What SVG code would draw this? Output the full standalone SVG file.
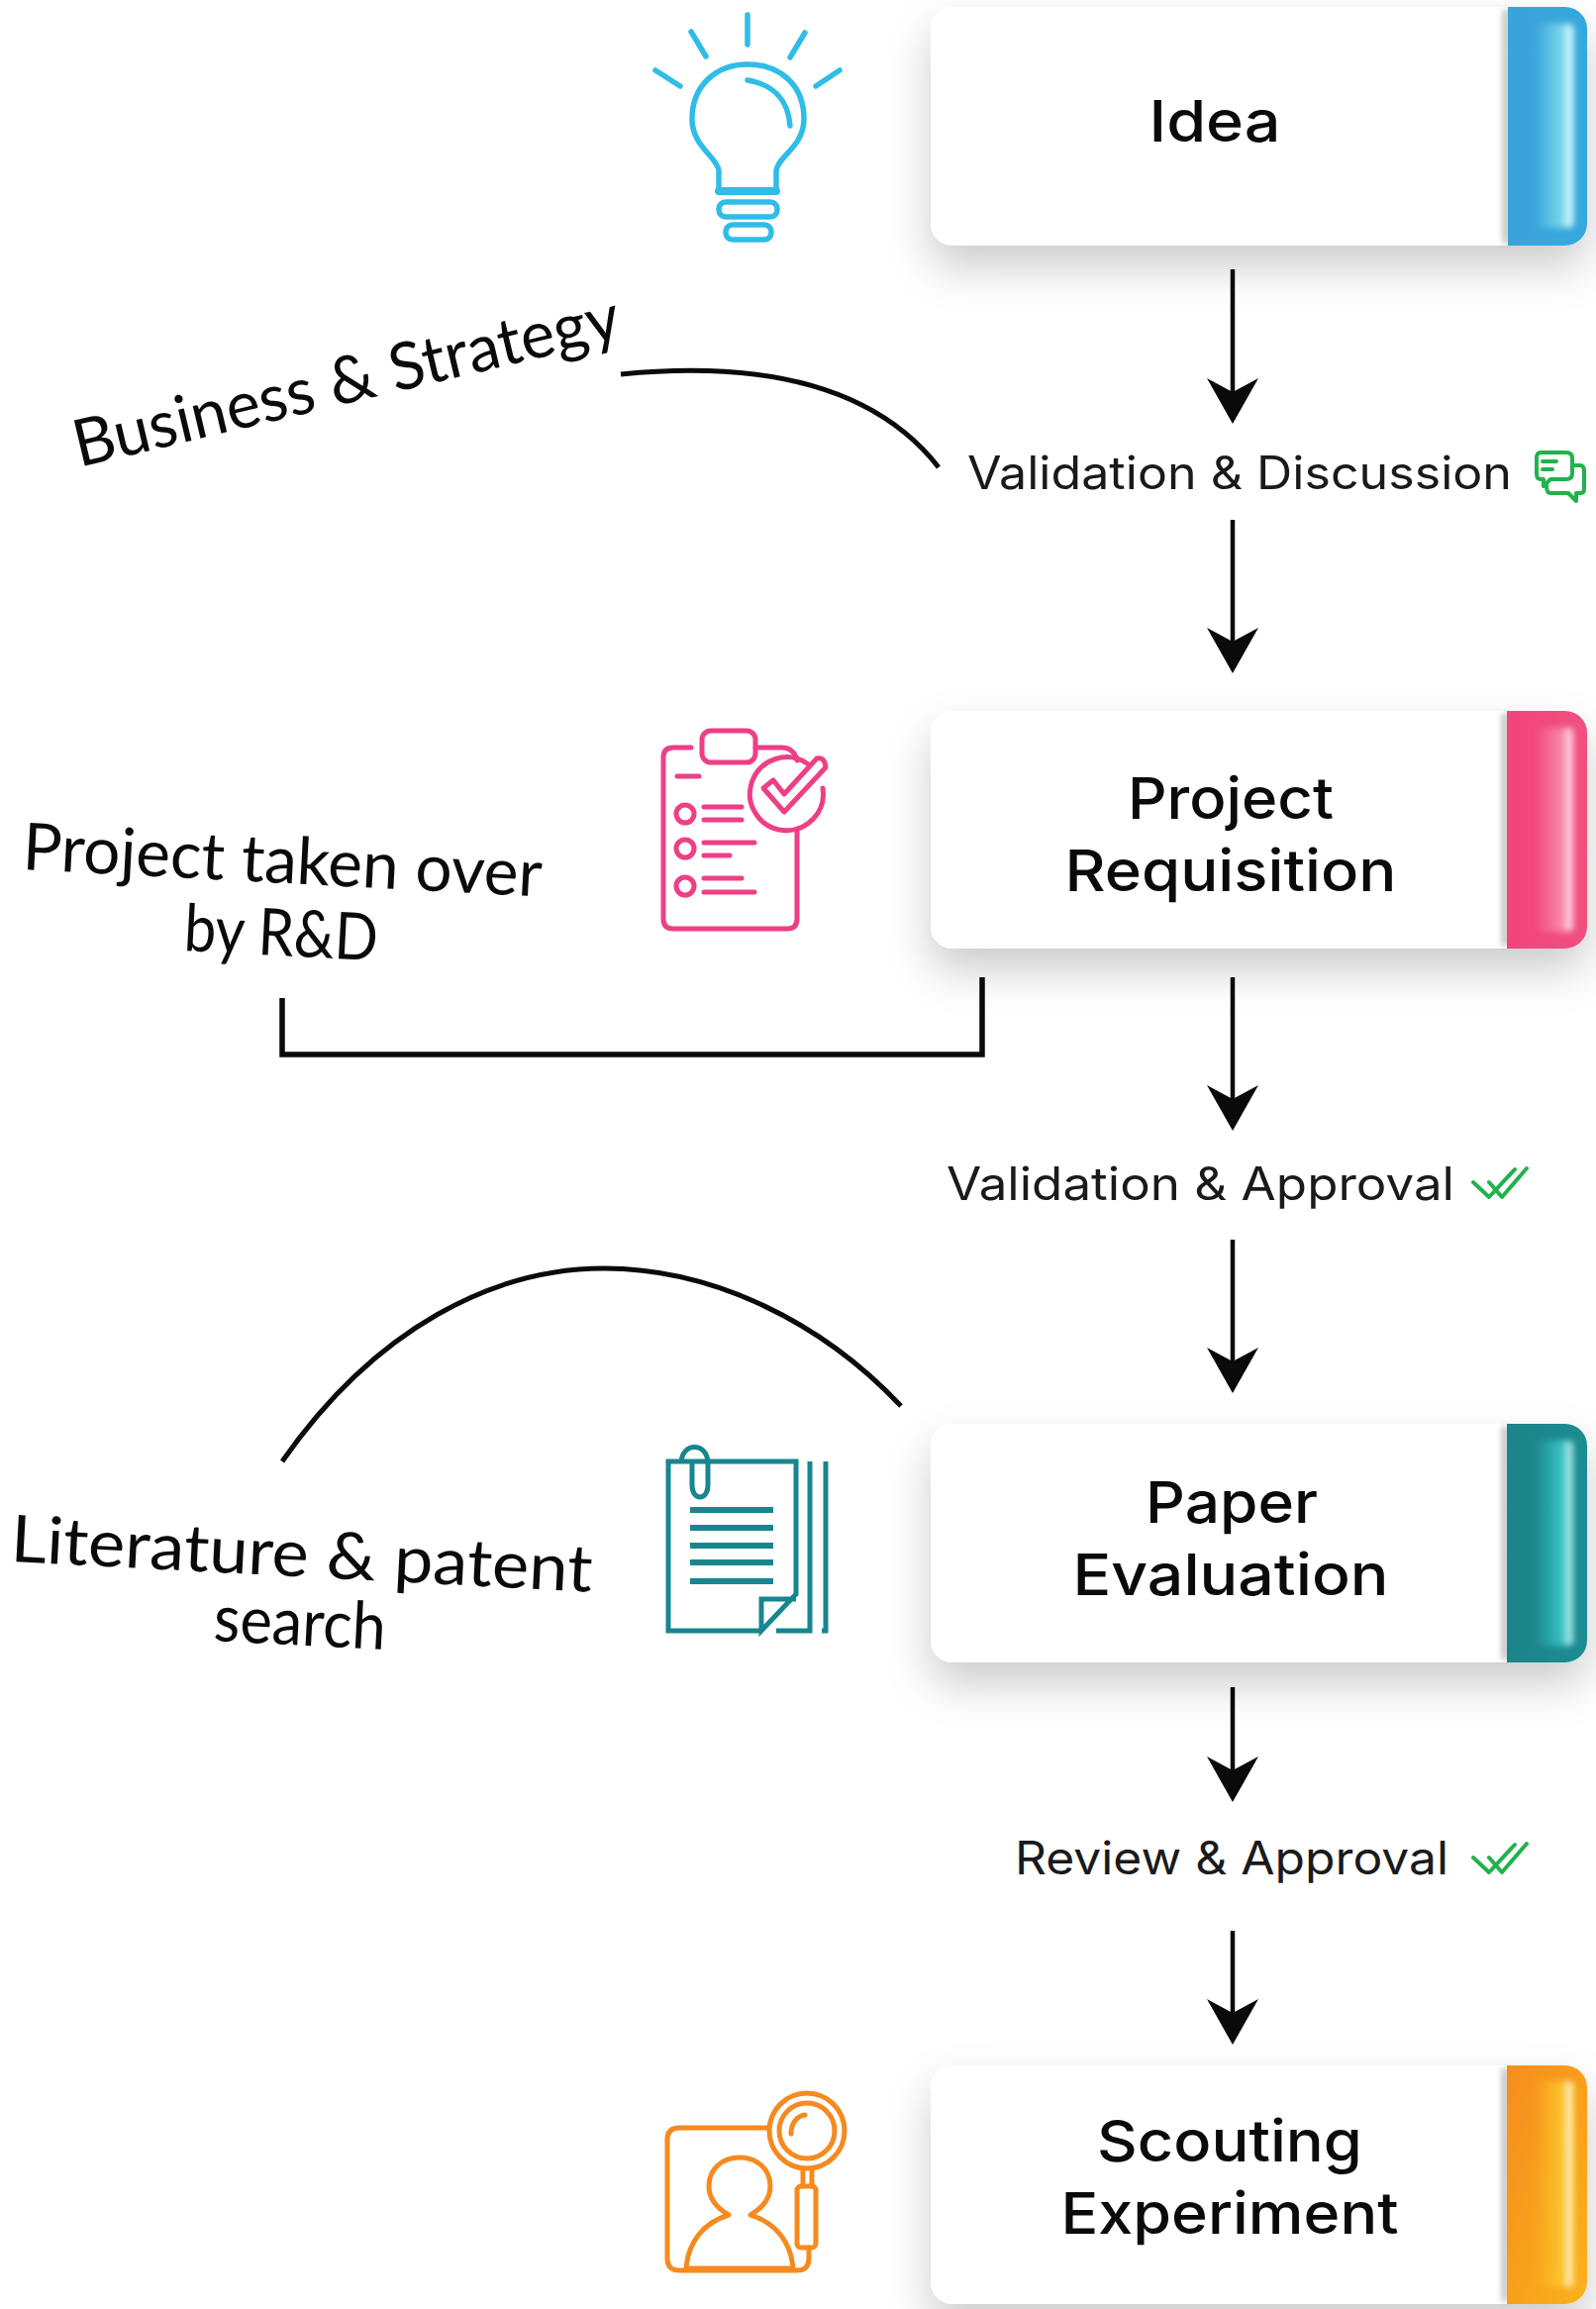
<svg xmlns="http://www.w3.org/2000/svg" width="1612" height="2332" viewBox="0 0 1612 2332">
<style>
.t{font-family:"Inter","Noto Sans",sans-serif;fill:#0a0a0a}
.h{font-size:58px;font-weight:500}
.l{font-size:46px;font-weight:400;fill:#1a1a1a}
.w{font-family:"Lato","Open Sans",sans-serif;font-weight:400;fill:#0a0a0a;font-size:66px}
.conn{fill:none;stroke:#0a0a0a;stroke-width:4.5}
.i{fill:none;stroke-width:5.5;stroke-linecap:round;stroke-linejoin:round}
.blue{stroke:#2fbde8}.pink{stroke:#ee3f86}.teal{stroke:#17868f}.orange{stroke:#f58a1f}.green{stroke:#22b24c;stroke-width:4}
.edge{fill:#000;opacity:.28}
</style>
<defs>
<filter id="sh" x="-15%" y="-30%" width="130%" height="190%"><feDropShadow dx="0" dy="22" stdDeviation="22" flood-color="#000" flood-opacity=".2"/></filter>
<filter id="bl" x="-30%" y="-10%" width="160%" height="120%"><feGaussianBlur stdDeviation="3"/></filter>
<filter id="bs" x="-300%" y="-5%" width="700%" height="110%"><feGaussianBlur stdDeviation="3"/></filter>
<marker id="arr" markerUnits="userSpaceOnUse" markerWidth="46" markerHeight="52" refX="36" refY="26" orient="auto" viewBox="0 0 46 52"><path d="M46 26L0 0L14 26L0 52Z" fill="#0a0a0a"/></marker>
<linearGradient id="gb" x1="0" x2="1" y1="0" y2="0"><stop offset="0" stop-color="#3ba3da"/><stop offset="1" stop-color="#35a9de"/></linearGradient>
<linearGradient id="gp" x1="0" x2="1" y1="0" y2="0"><stop offset="0" stop-color="#f1447c"/><stop offset="1" stop-color="#f0507f"/></linearGradient>
<linearGradient id="gt" x1="0" x2="1" y1="0" y2="0"><stop offset="0" stop-color="#1c8389"/><stop offset="1" stop-color="#1b8d92"/></linearGradient>
<linearGradient id="go" x1="0" x2="1" y1="0" y2="1"><stop offset="0" stop-color="#f58d1e"/><stop offset="1" stop-color="#fab21a"/></linearGradient>
<linearGradient id="hb" x1="0" x2="1"><stop offset="0" stop-color="#7fd6ea" stop-opacity="0"/><stop offset=".75" stop-color="#7fdcec"/><stop offset=".88" stop-color="#e8fbff"/><stop offset="1" stop-color="#7fdcec"/></linearGradient>
<linearGradient id="hp" x1="0" x2="1"><stop offset="0" stop-color="#f78aa8" stop-opacity="0"/><stop offset=".75" stop-color="#f88cb0"/><stop offset=".88" stop-color="#ffe8f0"/><stop offset="1" stop-color="#f878a0"/></linearGradient>
<linearGradient id="ht" x1="0" x2="1"><stop offset="0" stop-color="#2fc4c8" stop-opacity="0"/><stop offset=".75" stop-color="#3cc8c8"/><stop offset=".88" stop-color="#c8f0f0"/><stop offset="1" stop-color="#2fb0b4"/></linearGradient>
<linearGradient id="ho" x1="0" x2="1"><stop offset="0" stop-color="#fbc02a" stop-opacity="0"/><stop offset=".75" stop-color="#fcc62c"/><stop offset=".88" stop-color="#fff6d8"/><stop offset="1" stop-color="#fdd020"/></linearGradient>
</defs>
<rect width="1612" height="2332" fill="#fff"/>

<g id="node-idea">
<rect x="940" y="7" width="663" height="241" rx="22" fill="#fff" filter="url(#sh)"/>
<rect class="edge" x="1518" y="10" width="6" height="236" filter="url(#bs)"/>
<path d="M1523 7H1581a22 22 0 0 1 22 22V226a22 22 0 0 1-22 22H1523Z" fill="url(#gb)"/>
<rect x="1550" y="24" width="40" height="206" rx="6" fill="url(#hb)" filter="url(#bl)"/>
<text class="t h" x="1227" y="143" text-anchor="middle" textLength="133" lengthAdjust="spacingAndGlyphs">Idea</text>
</g>
<g id="icon-bulb" class="i blue">
<path d="M755 15V45M698 32L713 57M813 33L798 58M662 71L687 87M848 71L824 87"/>
<path d="M726 193V172C724 158 699 148 699 120C699 85 725 65 755 65C787 65 812 85 812 120C812 148 786 158 784 172V193Z"/>
<path d="M726 193H784" style="stroke-width:8"/>
<path d="M755 81C780 85 796 100 798 127"/>
<rect x="726" y="204" width="59" height="15" rx="7"/>
<rect x="733" y="227" width="46" height="15" rx="7"/>
</g>

<g id="connectors">
<line class="conn" x1="1245" y1="272" x2="1245" y2="418" marker-end="url(#arr)"/>
<line class="conn" x1="1245" y1="525" x2="1245" y2="670" marker-end="url(#arr)"/>
<line class="conn" x1="1245" y1="987" x2="1245" y2="1132" marker-end="url(#arr)"/>
<line class="conn" x1="1245" y1="1252" x2="1245" y2="1397" marker-end="url(#arr)"/>
<line class="conn" x1="1245" y1="1704" x2="1245" y2="1810" marker-end="url(#arr)"/>
<line class="conn" x1="1245" y1="1950" x2="1245" y2="2055" marker-end="url(#arr)"/>
<path class="conn" style="stroke-width:5" d="M627 378C760 365 880 385 948 472"/>
<path class="conn" style="stroke-width:5.5" d="M285 1008V1065H992V987"/>
<path class="conn" style="stroke-width:5" d="M285 1476C380 1340 500 1281 610 1281C720 1281 830 1335 910 1420"/>
</g>

<g id="label-discussion">
<text class="t l" x="977" y="494" textLength="550" lengthAdjust="spacingAndGlyphs">Validation &amp; Discussion</text>
<g class="i green"><path d="M1556 457H1582Q1588 457 1588 463V478Q1588 484 1582 484H1566L1559 491V484H1556Q1552 484 1552 478V463Q1552 457 1556 457Z"/><path d="M1558 466H1572M1558 474H1568"/><path d="M1588 470H1596Q1600 470 1600 476V494Q1600 498 1596 498H1592V506L1584 498H1566Q1562 498 1562 490"/></g>
</g>

<g id="note-business"><text class="w" transform="translate(80 472) rotate(-13.4)" textLength="565" lengthAdjust="spacingAndGlyphs">Business &amp; Strategy</text></g>

<g id="node-project">
<rect x="940" y="718" width="663" height="240" rx="22" fill="#fff" filter="url(#sh)"/>
<rect class="edge" x="1517" y="721" width="6" height="234" filter="url(#bs)"/>
<path d="M1522 718H1581a22 22 0 0 1 22 22V936a22 22 0 0 1-22 22H1522Z" fill="url(#gp)"/>
<rect x="1550" y="735" width="40" height="206" rx="6" fill="url(#hp)" filter="url(#bl)"/>
<text class="t h" x="1243" y="827" text-anchor="middle" textLength="208" lengthAdjust="spacingAndGlyphs">Project</text>
<text class="t h" x="1243" y="900" text-anchor="middle" textLength="335" lengthAdjust="spacingAndGlyphs">Requisition</text>
</g>
<g id="icon-clipboard" class="i pink" style="stroke-width:5">
<path d="M698 755H680Q670 755 670 765V928Q670 938 680 938H795Q805 938 805 928V840"/>
<path d="M763 755H790Q802 755 805 768"/>
<rect x="709" y="738" width="54" height="32" rx="9"/>
<path d="M684 784H706"/>
<circle cx="692" cy="822" r="9"/><circle cx="692" cy="857" r="9"/><circle cx="692" cy="895" r="9"/>
<path d="M711 815H749M711 828H749M711 851H762M711 864H737M711 887H749M711 901H762"/>
<path d="M831 796A37 37 0 1 1 815 771"/>
<path d="M771 796L781 788L792 802L825 766Q833 764 834 775L792 820Z"/>
</g>
<g id="note-project">
<text class="w" transform="translate(22 878) rotate(3)" textLength="525" lengthAdjust="spacingAndGlyphs">Project taken over</text>
<text class="w" transform="translate(185 960) rotate(3)" textLength="196" lengthAdjust="spacingAndGlyphs">by R&amp;D</text>
</g>

<g id="label-approval">
<text class="t l" x="956" y="1212" textLength="513" lengthAdjust="spacingAndGlyphs">Validation &amp; Approval</text>
<path class="i green" d="M1488 1194L1504 1209L1530 1181M1504 1194L1517 1209L1542 1180"/>
</g>

<g id="node-paper">
<rect x="940" y="1438" width="663" height="241" rx="22" fill="#fff" filter="url(#sh)"/>
<rect class="edge" x="1517" y="1441" width="6" height="235" filter="url(#bs)"/>
<path d="M1522 1438H1581a22 22 0 0 1 22 22V1657a22 22 0 0 1-22 22H1522Z" fill="url(#gt)"/>
<rect x="1550" y="1455" width="40" height="207" rx="6" fill="url(#ht)" filter="url(#bl)"/>
<text class="t h" x="1244" y="1538" text-anchor="middle" textLength="174" lengthAdjust="spacingAndGlyphs">Paper</text>
<text class="t h" x="1243" y="1611" text-anchor="middle" textLength="319" lengthAdjust="spacingAndGlyphs">Evaluation</text>
</g>
<g id="icon-doc" class="i teal" style="stroke-linecap:butt;stroke-linejoin:miter;stroke-width:5">
<path d="M769 1647H675V1476H804V1610L769 1647V1615H804"/>
<path d="M784 1647H818V1476M834 1476V1647H830"/>
<path d="M697 1525H781M697 1543H781M697 1561H781M697 1578H781M697 1597H781" style="stroke-width:6"/>
<path d="M699 1476V1500C699 1516 715 1516 715 1500V1478C715 1456 688 1456 688 1478"/>
</g>
<g id="note-literature">
<text class="w" transform="translate(10 1577) rotate(3)" textLength="588" lengthAdjust="spacingAndGlyphs">Literature &amp; patent</text>
<text class="w" transform="translate(215 1657) rotate(3)" textLength="174" lengthAdjust="spacingAndGlyphs">search</text>
</g>

<g id="label-review">
<text class="t l" x="1025" y="1893" textLength="438" lengthAdjust="spacingAndGlyphs">Review &amp; Approval</text>
<path class="i green" d="M1488 1876L1504 1891L1530 1863M1504 1876L1517 1891L1542 1862"/>
</g>

<g id="node-scouting">
<rect x="940" y="2086" width="663" height="241" rx="22" fill="#fff" filter="url(#sh)"/>
<rect class="edge" x="1517" y="2089" width="6" height="235" filter="url(#bs)"/>
<path d="M1522 2086H1581a22 22 0 0 1 22 22V2305a22 22 0 0 1-22 22H1522Z" fill="url(#go)"/>
<rect x="1550" y="2102" width="40" height="208" rx="6" fill="url(#ho)" filter="url(#bl)"/>
<text class="t h" x="1242" y="2183" text-anchor="middle" textLength="268" lengthAdjust="spacingAndGlyphs">Scouting</text>
<text class="t h" x="1242" y="2256" text-anchor="middle" textLength="341" lengthAdjust="spacingAndGlyphs">Experiment</text>
</g>
<g id="icon-scout" class="i orange" style="stroke-width:5">
<path d="M775 2149H686Q674 2149 674 2161V2281Q674 2293 686 2293H805Q817 2293 817 2281V2270"/>
<circle cx="815" cy="2152" r="38"/>
<circle cx="815" cy="2152" r="28"/>
<path d="M799 2155C799 2144 805 2137 813 2136"/>
<path d="M811 2191V2208M820 2191V2208"/>
<rect x="805" y="2208" width="19" height="62" rx="4"/>
<path d="M693 2291C695 2265 710 2245 736 2237C724 2230 716 2220 716 2208C716 2190 730 2179 747 2179C764 2179 778 2190 778 2208C778 2220 770 2230 758 2237C784 2245 799 2265 801 2291Z"/>
</g>
</svg>
